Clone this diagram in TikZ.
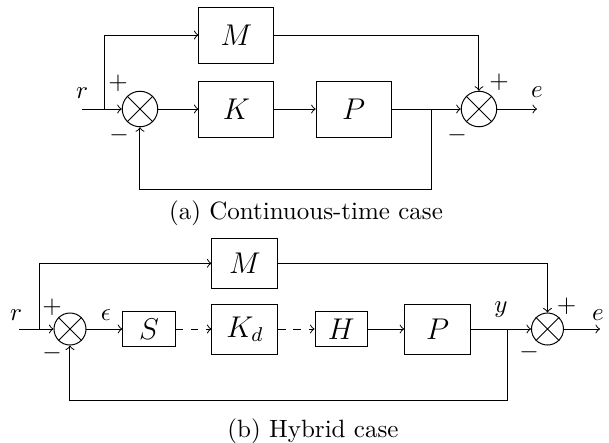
\documentclass[tikz,border=0pt]{standalone}
\usetikzlibrary{calc}
\begin{document}
\begin{tikzpicture}[x=0.4pt,y=-0.4pt,
  bigblk/.style={draw,inner sep=0pt,minimum width=30pt,minimum height=22.4pt,font=\large},
  midblk/.style={draw,inner sep=0pt,minimum width=26.4pt,minimum height=20pt,font=\large},
  smallblk/.style={draw,inner sep=0pt,minimum width=21pt,minimum height=14.3pt,font=\large},
  sumbig/.style={draw,circle,inner sep=0pt,minimum size=14.2pt},
  sumsmall/.style={draw,circle,inner sep=0pt,minimum size=12.8pt},
  lbl/.style={inner sep=0pt},
  conn/.style={->},
  dconn/.style={->,dashed}]
\useasboundingbox (0,0) rectangle (609,442);
% ---------- (a) ----------
\node[bigblk] (M1) at (236.5,35) {$M$};
\node[bigblk] (K) at (236.5,109) {$K$};
\node[bigblk] (P1) at (353.7,109) {$P$};
\node[sumbig] (s1) at (140,109) {};
\node[sumbig] (s2) at (479,109) {};
\draw (s1.45) -- (s1.225) (s1.135) -- (s1.315);
\draw (s2.45) -- (s2.225) (s2.135) -- (s2.315);
\coordinate (in1) at (82,109);
\coordinate (b1) at (105,109);
\coordinate (b2) at (432,109);
\coordinate (out1) at (537,109);
\node[lbl] (r1) at (82,93) {$r$};
\node[lbl] (p1) at (118,83) {$+$};
\node[lbl] (m1) at (119,135) {$-$};
\node[lbl] (p2) at (499,82) {$+$};
\node[lbl] (m2) at (457,135) {$-$};
\node[lbl] (e1) at (537,92) {$e$};
\draw[conn] (in1) -- (s1.west);
\draw[conn] (b1) |- (M1.west);
\draw[conn] (s1.east) -- (K.west);
\draw[conn] (K.east) -- (P1.west);
\draw[conn] (P1.east) -- (s2.west);
\draw[conn] (M1.east) -| (s2.north);
\draw[conn] (s2.east) -- (out1);
\draw[conn] (b2) -- (432,189) -| (s1.south);
\node (capa) at (306,213) {(a) Continuous-time case};
% ---------- (b) ----------
\node[midblk] (M2) at (245,263.3) {$M$};
\node[smallblk] (S) at (149,329) {$S$};
\node[midblk] (Kd) at (245,329) {$K_d$};
\node[smallblk] (H) at (341.3,329) {$H$};
\node[midblk] (P2) at (437.7,329) {$P$};
\node[sumsmall] (s3) at (70,329) {};
\node[sumsmall] (s4) at (547.5,329) {};
\draw (s3.45) -- (s3.225) (s3.135) -- (s3.315);
\draw (s4.45) -- (s4.225) (s4.135) -- (s4.315);
\coordinate (in2) at (19,329);
\coordinate (b3) at (40,329);
\coordinate (b4) at (507.3,329);
\coordinate (out2) at (600,329);
\node[lbl] (r2) at (16,315) {$r$};
\node[lbl] (p3) at (52,307) {$+$};
\node[lbl] (m3) at (52,353) {$-$};
\node[lbl] (p4) at (566.7,306.7) {$+$};
\node[lbl] (m4) at (529,352.7) {$-$};
\node[lbl] (eps) at (106,315) {$\epsilon$};
\node[lbl] (yl) at (501,310) {$y$};
\node[lbl] (e2) at (598,315) {$e$};
\draw[conn] (in2) -- (s3.west);
\draw[conn] (b3) |- (M2.west);
\draw[conn] (s3.east) -- (S.west);
\draw[dconn] (S.east) -- (Kd.west);
\draw[dconn] (Kd.east) -- (H.west);
\draw[conn] (H.east) -- (P2.west);
\draw[conn] (P2.east) -- (s4.west);
\draw[conn] (M2.east) -| (s4.north);
\draw[conn] (s4.east) -- (out2);
\draw[conn] (b4) -- (507.3,400) -| (s3.south);
\node (capb) at (313,431) {(b) Hybrid case};
\end{tikzpicture}
\end{document}
